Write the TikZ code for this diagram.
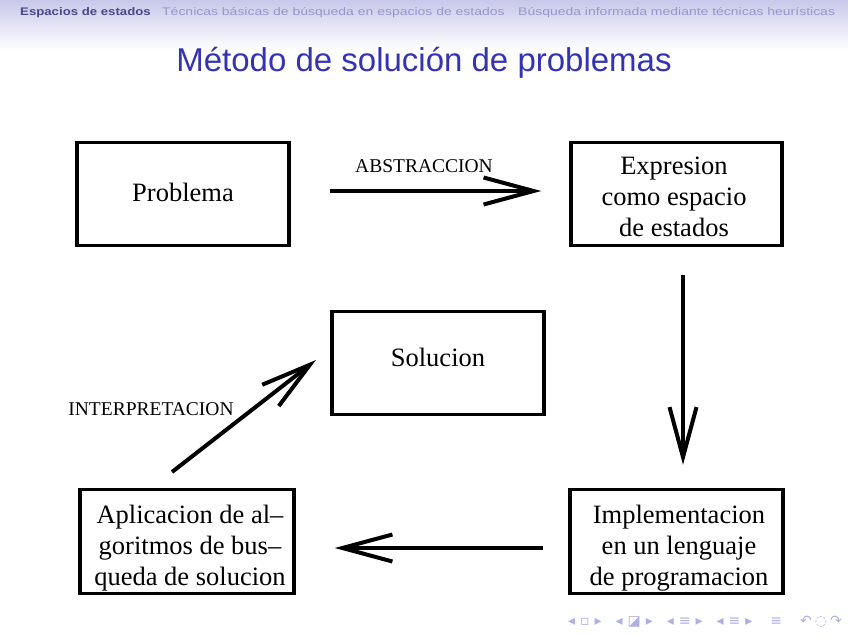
\documentclass[tikz,border=0pt]{standalone}
\usepackage{fontspec}
\setmainfont{Liberation Serif}
\newfontfamily\hsans{Liberation Sans}
\newfontfamily\hsanswide[FakeStretch=1.27]{Liberation Sans}
\newfontfamily\symf{DejaVu Sans}
\usetikzlibrary{arrows.meta,calc}
\definecolor{titleblue}{RGB}{51,51,179}
\definecolor{headtop}{RGB}{200,200,234}
\definecolor{headdark}{RGB}{72,72,140}
\definecolor{headlight}{RGB}{150,150,205}
\definecolor{navblue}{RGB}{175,175,228}
\begin{document}
\begin{tikzpicture}[x=1pt,y=-1pt,
  box/.style={draw,line width=3.5pt,inner sep=0pt},
  boxtxt/.style={align=center,inner sep=0pt,font=\fontsize{26.5}{31}\selectfont},
  conn/.style={line width=4pt,-{Straight Barb[length=50pt,width=27pt]}},
  lbl/.style={font=\fontsize{19.5}{20}\selectfont,inner sep=0pt},
  headtxt/.style={font=\hsanswide\fontsize{11}{12}\selectfont,inner sep=0pt}]
\useasboundingbox (0,0) rectangle (848,635);
\shade[top color=headtop,bottom color=white] (0,0) rectangle (848,50);
\node[headtxt,text=headdark,anchor=west] (h1) at (20,13) {\bfseries\addfontfeature{FakeStretch=1.2}Espacios de estados};
\node[headtxt,text=headlight,anchor=west] (h2) at (162,13) {Técnicas básicas de búsqueda en espacios de estados};
\node[headtxt,text=headlight,anchor=west] (h3) at (518,13) {Búsqueda informada mediante técnicas heurísticas};
\node[font=\hsans\fontsize{33}{36}\selectfont,text=titleblue,inner sep=0pt] (title) at (424,63) {Método de solución de problemas};

\node[box,minimum width=212pt,minimum height=103pt] (prob) at (183,194) {};
\node[boxtxt] (probt) at (183,192) {Problema};
\node[box,minimum width=211pt,minimum height=103pt] (expr) at (676.5,194) {};
\node[boxtxt] (exprt) at (674,197) {Expresion\\como espacio\\de estados};
\node[box,minimum width=212pt,minimum height=103pt] (sol) at (438,363) {};
\node[boxtxt] (solt) at (438,357) {Solucion};
\node[box,minimum width=214pt,minimum height=104pt] (aplic) at (187,541.5) {};
\node[boxtxt] (aplict) at (190,548) {Aplicacion de al–\\goritmos de bus–\\queda de solucion};
\node[box,minimum width=213pt,minimum height=104pt] (impl) at (676.5,541.5) {};
\node[boxtxt] (implt) at (679,548) {Implementacion\\en un lenguaje\\de programacion};

\draw[conn,shorten <=39pt,shorten >=28pt] ([yshift=3pt]prob.east) -- ([yshift=3pt]expr.west);
\node[lbl] (abs) at (424,166) {ABSTRACCION};
\draw[conn,shorten <=28pt,shorten >=23pt] ([xshift=6.5pt]expr.south) -- ([xshift=6.5pt]impl.north);
\draw[conn,shorten <=25pt,shorten >=39pt] ([yshift=-6.5pt]impl.west) -- ([yshift=-6.5pt]aplic.east);
\coordinate (ia) at (172,472);
\coordinate (ib) at (316,360);
\draw[conn] (ia) -- (ib);
\node[lbl] (interp) at (151,409) {INTERPRETACION};

\node[font=\symf\fontsize{14}{15}\selectfont,text=navblue,anchor=east,inner sep=0pt] (nav) at (842,622)
  {◂\hspace{5pt}▫\hspace{5pt}▸\hspace{14pt}◂\hspace{5pt}◪\hspace{5pt}▸\hspace{14pt}◂\hspace{5pt}≡\hspace{5pt}▸\hspace{14pt}◂\hspace{5pt}≡\hspace{5pt}▸\hspace{18pt}≡\hspace{18pt}↶\hspace{3pt}◌\hspace{3pt}↷};
\end{tikzpicture}
\end{document}
